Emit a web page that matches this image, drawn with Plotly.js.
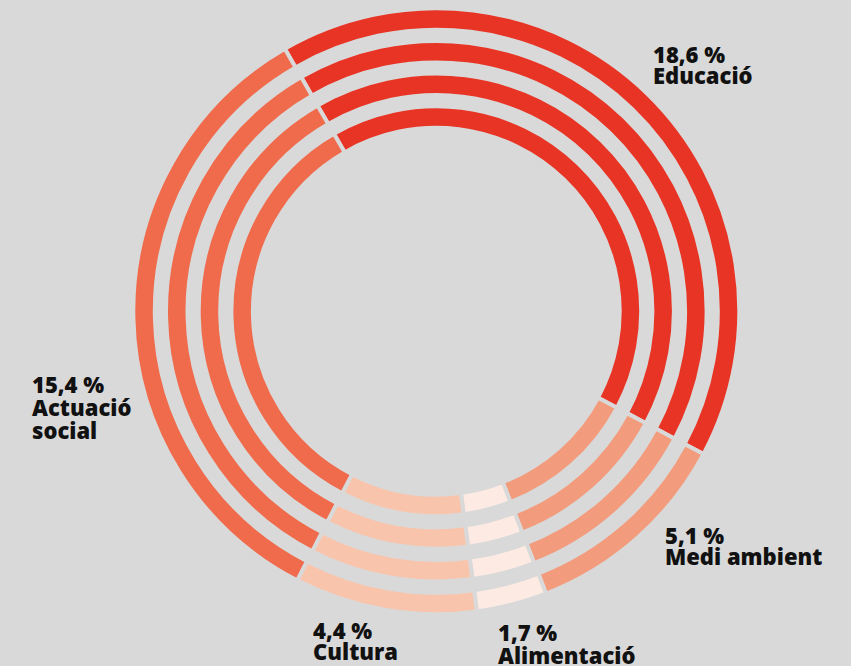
<!DOCTYPE html>
<html>
<head>
<meta charset="utf-8">
<script src="https://cdn.plot.ly/plotly-3.0.1.min.js"></script>
<style>
  html, body { margin: 0; padding: 0; background: #d9d9d9; }
  #chart { width: 851px; height: 666px; }
</style>
</head>
<body>
<div id="chart"></div>
<script>
// Data
var categories = ["Educació", "Medi ambient", "Alimentació", "Cultura", "Actuació social"];
var shares = [18.6, 5.1, 1.7, 4.4, 15.4];
var percentLabels = ["18,6 %", "5,1 %", "1,7 %", "4,4 %", "15,4 %"];
var ringCount = 4;

// Styles
var colors = ["#e83424", "#f39c7d", "#fdebe3", "#f9c4ac", "#ef6b4c"];
var bg = "#d9d9d9";
var W = 851, H = 666;
var cxPx = 436.3, cyPx = 311.2;
var visOuter = [301, 268.3, 235.6, 202.9];
var visThick = 17.5;
var lineW = 4;

var cx = cxPx / W, cy = 1 - cyPx / H;
var traces = [];
for (var i = 0; i < ringCount; i++) {
  var R = visOuter[i] + lineW / 2;
  var geoThick = visThick + lineW;
  traces.push({
    type: "pie",
    labels: categories,
    values: shares,
    sort: false,
    direction: "clockwise",
    rotation: -30,
    hole: (R - geoThick) / R,
    domain: { x: [cx - R / W, cx + R / W], y: [cy - R / H, cy + R / H] },
    marker: { colors: colors, line: { color: bg, width: lineW } },
    textinfo: "none",
    hoverinfo: "none",
    showlegend: false
  });
}

// Label positions (px): left x, centre y of each text line
var labelPos = [
  { x: 652, ys: [54, 75] },           // Educació
  { x: 664, ys: [535, 556] },         // Medi ambient
  { x: 497, ys: [632, 655] },         // Alimentació
  { x: 312, ys: [630, 651] },         // Cultura
  { x: 31,  ys: [384, 407, 430] }     // Actuació social
];
var splitNames = [["Educació"], ["Medi ambient"], ["Alimentació"], ["Cultura"], ["Actuació", "social"]];

var font = { family: "'Open Sans', 'Lato', sans-serif", size: 22, color: "#111111", weight: 800 };
var annotations = [];
for (var k = 0; k < categories.length; k++) {
  var lines = [percentLabels[k]].concat(splitNames[k]);
  for (var j = 0; j < lines.length; j++) {
    annotations.push({
      xref: "paper", yref: "paper",
      x: labelPos[k].x / W, y: 1 - labelPos[k].ys[j] / H,
      xanchor: "left", yanchor: "middle",
      text: lines[j], showarrow: false, font: font, borderpad: 0
    });
  }
}

var layout = {
  width: W, height: H,
  margin: { l: 0, r: 0, t: 0, b: 0 },
  paper_bgcolor: bg, plot_bgcolor: bg,
  showlegend: false,
  annotations: annotations
};

Plotly.newPlot("chart", traces, layout, { displayModeBar: false, staticPlot: true });
</script>
</body>
</html>
